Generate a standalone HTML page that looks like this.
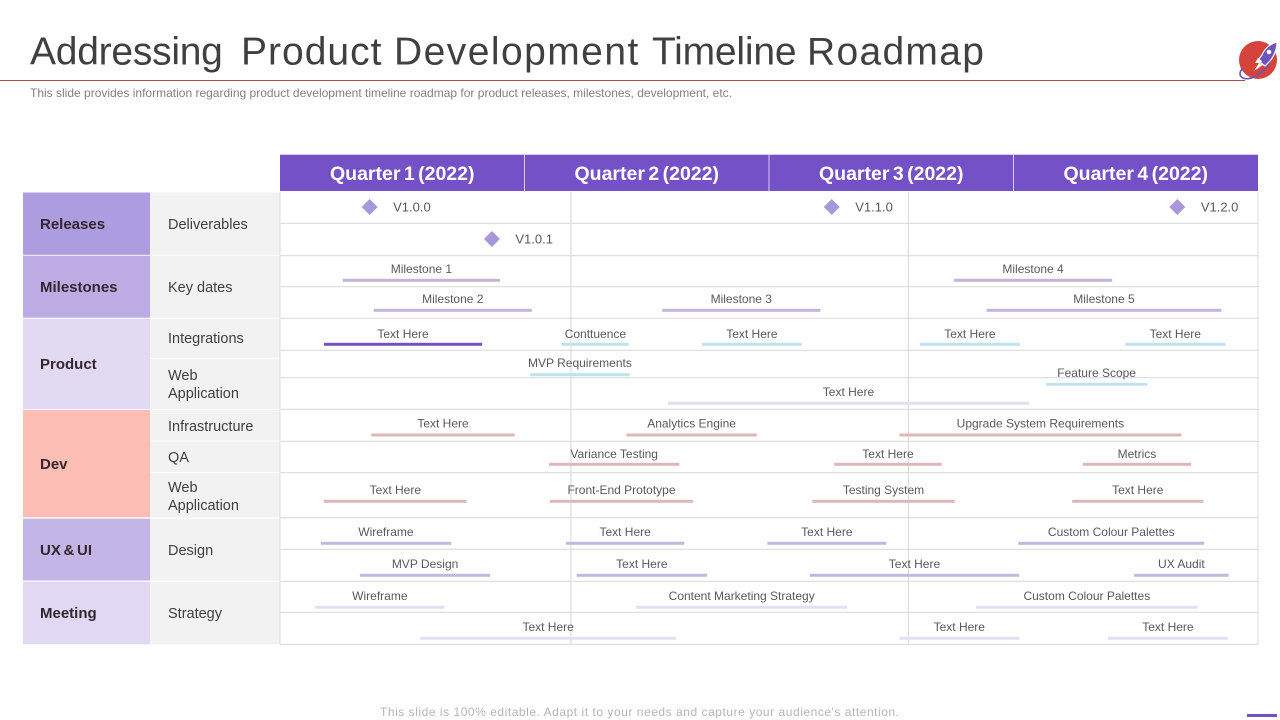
<!DOCTYPE html>
<html lang="en">
<head>
<meta charset="utf-8">
<title>Addressing Product Development Timeline Roadmap</title>
<style>
html,body{margin:0;padding:0;background:#fff;width:1280px;height:720px;overflow:hidden}
svg{display:block;font-family:"Liberation Sans",sans-serif}
.cat{font-size:15px;font-weight:bold;fill:#33262e}
.sub{font-size:14.5px;fill:#404040}
</style>
</head>
<body>
<svg id="roadmap" xmlns="http://www.w3.org/2000/svg" width="1280" height="720" viewBox="0 0 1280 720">
  <text y="64.5" font-size="39" fill="#404040"><tspan x="30" style="letter-spacing:-.25px">Addressing</tspan> <tspan x="241" style="letter-spacing:1px">Product</tspan> <tspan x="394" style="letter-spacing:1.45px">Development</tspan> <tspan x="652" style="letter-spacing:-.2px">Timeline</tspan> <tspan x="807" style="letter-spacing:1.3px">Roadmap</tspan></text>
  <rect x="0" y="80" width="1245" height="1" fill="#a5504f"/>
  <text x="30" y="97" font-size="12" fill="#808080" textLength="702" lengthAdjust="spacing">This slide provides information regarding product development timeline roadmap for product releases, milestones, development, etc.</text>

  <g>
    <circle cx="1258" cy="60" r="19" fill="#d5443c"/>
    <path d="M1270 63 C1262 74 1250 81 1243 78 C1239 76 1239 72 1243 68" fill="none" stroke="#6f55b8" stroke-width="1.6"/>
    <path d="M1277 42 C1269 44 1264 50 1262 55 L1258 60 L1261 63 L1265 66 L1269 62 C1274 57 1277 49 1277 42Z" fill="#6a55c0" stroke="#fff" stroke-width="1.2"/>
    <circle cx="1269" cy="52" r="2.3" fill="#fff"/>
    <path d="M1258 58 L1255 63 L1259 63 L1254 71 L1263 65 L1260 64 L1262 61Z" fill="#fff"/>
  </g>

  <g>
    <rect x="23" y="192.5" width="127" height="62.3" fill="#ae9ce0"/>
    <rect x="23" y="255.7" width="127" height="62" fill="#bcace3"/>
    <rect x="23" y="318.7" width="127" height="90.3" fill="#e2daf3"/>
    <rect x="23" y="410" width="127" height="107.3" fill="#fcbdb4"/>
    <rect x="23" y="518.7" width="127" height="61.8" fill="#c4b5e7"/>
    <rect x="23" y="581.7" width="127" height="62.6" fill="#e1d9f3"/>
    <text class="cat" x="40" y="229">Releases</text>
    <text class="cat" x="40" y="292">Milestones</text>
    <text class="cat" x="40" y="369">Product</text>
    <text class="cat" x="40" y="469">Dev</text>
    <text class="cat" x="40" y="555" word-spacing="-1.5">UX &amp; UI</text>
    <text class="cat" x="40" y="618">Meeting</text>
  </g>

  <g>
    <rect x="150" y="192.5" width="129.5" height="62.3" fill="#f2f2f2"/>
    <rect x="150" y="255.7" width="129.5" height="62" fill="#f2f2f2"/>
    <rect x="150" y="318.7" width="129.5" height="39" fill="#f2f2f2"/>
    <rect x="150" y="359" width="129.5" height="50" fill="#f2f2f2"/>
    <rect x="150" y="410" width="129.5" height="30.5" fill="#f2f2f2"/>
    <rect x="150" y="441.5" width="129.5" height="30.7" fill="#f2f2f2"/>
    <rect x="150" y="473.2" width="129.5" height="44.1" fill="#f2f2f2"/>
    <rect x="150" y="518.7" width="129.5" height="61.8" fill="#f2f2f2"/>
    <rect x="150" y="581.7" width="129.5" height="62.6" fill="#f2f2f2"/>
    <text class="sub" x="168" y="229">Deliverables</text>
    <text class="sub" x="168" y="292">Key dates</text>
    <text class="sub" x="168" y="343">Integrations</text>
    <text class="sub" x="168" y="380">Web</text>
    <text class="sub" x="168" y="398">Application</text>
    <text class="sub" x="168" y="431">Infrastructure</text>
    <text class="sub" x="168" y="462">QA</text>
    <text class="sub" x="168" y="492">Web</text>
    <text class="sub" x="168" y="510">Application</text>
    <text class="sub" x="168" y="555">Design</text>
    <text class="sub" x="168" y="618">Strategy</text>
  </g>

  <g id="grid"></g>
  <g id="header"></g>
  <g id="bars"></g>
  <g id="releases"></g>

  <text x="380" y="716" font-size="12" fill="#b4b4b4" textLength="519" lengthAdjust="spacing">This slide is 100% editable. Adapt it to your needs and capture your audience's attention.</text>
  <rect x="1247" y="714" width="30" height="3" fill="#7551c0"/>
</svg>

<script>
// ---- chart data (time in months from the start of 2022) ----
const quarterLabels = ["Quarter 1 (2022)", "Quarter 2 (2022)", "Quarter 3 (2022)", "Quarter 4 (2022)"];
const gridMonths = [3.57, 7.71];

const releaseNames = ["V1.0.0", "V1.0.1", "V1.1.0", "V1.2.0"];
const releaseMonths = [1.10, 2.60, 6.77, 11.01];
const releaseLanes = [0, 1, 0, 0];

const taskNames = [
  "Milestone 1", "Milestone 4",
  "Milestone 2", "Milestone 3", "Milestone 5",
  "Text Here", "Conttuence", "Text Here", "Text Here", "Text Here",
  "MVP Requirements",
  "Feature Scope",
  "Text Here",
  "Text Here", "Analytics Engine", "Upgrade System Requirements",
  "Variance Testing", "Text Here", "Metrics",
  "Text Here", "Front-End Prototype", "Testing System", "Text Here",
  "Wireframe", "Text Here", "Text Here", "Custom Colour Palettes",
  "MVP Design", "Text Here", "Text Here", "UX Audit",
  "Wireframe", "Content Marketing Strategy", "Custom Colour Palettes",
  "Text Here", "Text Here", "Text Here"
];
const taskStarts = [
  0.77, 8.27,
  1.15, 4.69, 8.67,
  0.54, 3.46, 5.18, 7.85, 10.37,
  3.07,
  9.40,
  4.76,
  1.12, 4.25, 7.60,
  3.30, 6.80, 9.85,
  0.54, 3.31, 6.53, 9.72,
  0.50, 3.51, 5.98, 9.06,
  0.98, 3.64, 6.50, 10.48,
  0.43, 4.37, 8.54,
  1.72, 7.60, 10.16
];
const taskEnds = [
  2.70, 10.21,
  3.09, 6.63, 11.55,
  2.48, 4.28, 6.40, 9.08, 11.60,
  4.29,
  10.64,
  9.19,
  2.88, 5.85, 11.06,
  4.90, 8.12, 11.18,
  2.29, 5.07, 8.28, 11.33,
  2.10, 4.96, 7.44, 11.34,
  2.58, 5.24, 9.07, 11.64,
  2.02, 6.96, 11.26,
  4.86, 9.07, 11.63
];
const taskLanes = [
  2, 2,
  3, 3, 3,
  4, 4, 4, 4, 4,
  5,
  6,
  7,
  8, 8, 8,
  9, 9, 9,
  10, 10, 10, 10,
  11, 11, 11, 11,
  12, 12, 12, 12,
  13, 13, 13,
  14, 14, 14
];
const taskGroups = [
  "milestone", "milestone",
  "milestone", "milestone", "milestone",
  "active", "integration", "integration", "integration", "integration",
  "integration",
  "integration",
  "web",
  "dev", "dev", "dev",
  "dev", "dev", "dev",
  "dev", "dev", "dev", "dev",
  "ux", "ux", "ux", "ux",
  "ux", "ux", "ux", "ux",
  "meeting", "meeting", "meeting",
  "meeting", "meeting", "meeting"
];

// ---- layout and style ----
const SVG_NS = "http://www.w3.org/2000/svg";
const plot = { left: 280, right: 1258, top: 192, bottom: 644.3, headerTop: 154.7, headerBottom: 191 };
const rowLines = [223.3, 255.7, 286.7, 318.3, 350.3, 377.7, 409.3, 441.3, 472.7, 517.7, 549.3, 581.3, 612.3, 644.3];
const laneCenters = [207, 239, 280.3, 310.3, 344.3, 374.7, 384.3, 403.3, 435, 464.3, 501.3, 543.3, 575.3, 607.3, 638.3];
const laneLabelNudge = { 4: 1, 9: 1 };
const groupColors = {
  milestone: "#c3b4dc", active: "#7551c0", integration: "#c0e2ee", web: "#e2dfec",
  dev: "#dfb7b9", ux: "#c2b8dd", meeting: "#e4dff0"
};

function xScale(month) {
  return plot.left + month * (plot.right - plot.left) / 12;
}
function yScale(lane) {
  return laneCenters[lane];
}
function make(tag, parent, props) {
  const el = document.createElementNS(SVG_NS, tag);
  for (const key in props) el.setAttribute(key, props[key]);
  parent.appendChild(el);
  return el;
}

const gridLayer = document.getElementById("grid");
const headerLayer = document.getElementById("header");
const barLayer = document.getElementById("bars");
const releaseLayer = document.getElementById("releases");

rowLines.forEach(function (y) {
  const line = make("line", gridLayer, { x1: plot.left, x2: plot.right, y1: y, y2: y, stroke: "#dcdcdc", "stroke-width": 1.2 });
  
  
});
gridMonths.forEach(function (m) {
  const line = make("line", gridLayer, { x1: xScale(m), x2: xScale(m), y1: plot.top, y2: plot.bottom, stroke: "#d6d6da", "stroke-width": 1 });
  
  
});
[plot.left, plot.right].forEach(function (x) {
  const line = make("line", gridLayer, { x1: x, x2: x, y1: plot.top, y2: plot.bottom, stroke: "#dcdcdc", "stroke-width": 1 });
  
  
});

quarterLabels.forEach(function (label, i) {
  const x0 = xScale(i * 3);
  const x1 = xScale((i + 1) * 3);
  const cell = make("rect", headerLayer, { x: x0, y: plot.headerTop, width: x1 - x0, height: plot.headerBottom - plot.headerTop, fill: "#7551c7" });
  
  
  if (i > 0) {
    const divider = make("line", headerLayer, { x1: x0, x2: x0, y1: plot.headerTop, y2: plot.headerBottom, stroke: "#d9d0f0", "stroke-width": 1 });
    
    
  }
});
quarterLabels.forEach(function (label, i) {
  const text = make("text", headerLayer, { x: xScale(i * 3 + 1.5), y: 180, "font-size": 19.5, "font-weight": "bold", fill: "#fff", "text-anchor": "middle", "word-spacing": "-2px" });
  text.textContent = label;
  
  
});

taskNames.forEach(function (name, i) {
  const x0 = xScale(taskStarts[i]);
  const x1 = xScale(taskEnds[i]);
  const cy = yScale(taskLanes[i]);
  const bar = make("rect", barLayer, { x: x0, y: cy - 1.5, width: x1 - x0, height: 3, fill: groupColors[taskGroups[i]] });
  
  
  const nudge = laneLabelNudge[taskLanes[i]] || 0;
  const label = make("text", barLayer, { x: (x0 + x1) / 2, y: cy - 7.5 + nudge, "font-size": 12, fill: "#595959", "text-anchor": "middle" });
  label.textContent = name;
  
  
});

releaseNames.forEach(function (name, i) {
  const cx = xScale(releaseMonths[i]);
  const cy = yScale(releaseLanes[i]);
  const diamond = make("polygon", releaseLayer, { points: [cx, cy - 8, cx + 8, cy, cx, cy + 8, cx - 8, cy].join(" "), fill: "#a997dc" });
  
  
  const label = make("text", releaseLayer, { x: cx + 23.5, y: cy + 4.5, "font-size": 13, fill: "#595959" });
  label.textContent = name;
  
  
});
</script>
</body>
</html>
